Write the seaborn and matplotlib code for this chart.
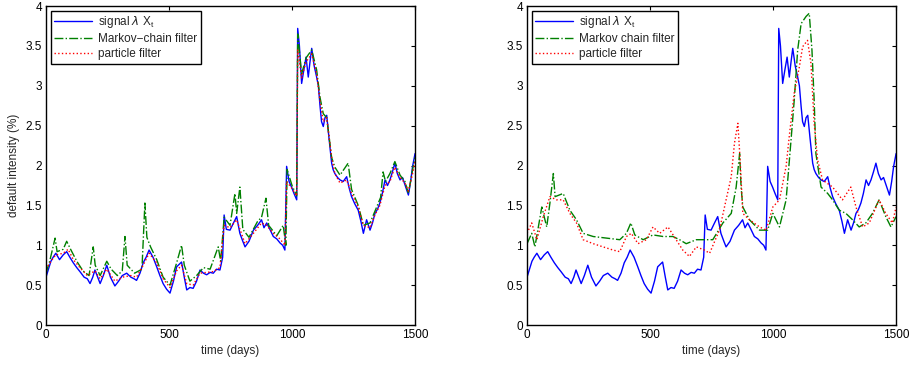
import numpy as np
import matplotlib
matplotlib.use('Agg')
from matplotlib import pyplot as plt
from matplotlib.ticker import FuncFormatter
import seaborn as sns

sns.set_style('white')
plt.rcParams['font.family'] = ['Liberation Sans', 'DejaVu Sans']

# signal lambda X_t (same path in both panels)
sig_days = [0, 10, 20, 29, 40, 55, 70, 84, 97, 111, 125, 138, 155, 168, 179, 190, 199, 210, 220,
            233, 247, 262, 280, 295, 310, 328, 345, 358, 368, 382, 395, 407, 419, 435, 450, 463,
            476, 490, 504, 518, 531, 551, 562, 572, 585, 598, 612, 626, 640, 653, 667, 680, 693,
            707, 718, 724, 733, 748, 762, 775, 788, 800, 809, 825, 843, 860, 876, 886, 897, 910,
            924, 938, 951, 962, 971, 978, 988, 998, 1008, 1019, 1023, 1030, 1039, 1048, 1057, 1066,
            1073, 1080, 1090, 1100, 1107, 1114, 1120, 1127, 1134, 1141, 1150, 1161, 1167, 1174,
            1185, 1195, 1208, 1222, 1232, 1242, 1255, 1269, 1280, 1290, 1303, 1317, 1327, 1337,
            1347, 1357, 1367, 1378, 1388, 1398, 1408, 1418, 1428, 1439, 1449, 1459, 1466, 1473,
            1482, 1490, 1500]
sig_vals = [0.60, 0.70, 0.80, 0.85, 0.90, 0.82, 0.88, 0.92, 0.85, 0.78, 0.72, 0.67, 0.60, 0.58,
            0.52, 0.60, 0.69, 0.60, 0.52, 0.62, 0.75, 0.60, 0.49, 0.55, 0.62, 0.65, 0.60, 0.58,
            0.56, 0.65, 0.78, 0.85, 0.94, 0.85, 0.73, 0.62, 0.52, 0.45, 0.40, 0.55, 0.73, 0.79,
            0.60, 0.44, 0.47, 0.46, 0.55, 0.69, 0.65, 0.63, 0.66, 0.65, 0.70, 0.69, 0.85, 1.38,
            1.20, 1.19, 1.28, 1.36, 1.15, 1.05, 0.98, 1.05, 1.19, 1.25, 1.32, 1.22, 1.28, 1.20,
            1.11, 1.08, 1.03, 1.00, 0.94, 1.99, 1.80, 1.73, 1.65, 1.57, 3.72, 3.50, 3.03, 3.20,
            3.36, 3.11, 3.30, 3.47, 3.25, 3.11, 3.00, 2.74, 2.55, 2.49, 2.60, 2.63, 2.35, 2.03,
            1.95, 1.90, 1.85, 1.82, 1.80, 1.86, 1.72, 1.61, 1.52, 1.44, 1.30, 1.15, 1.32, 1.19,
            1.28, 1.40, 1.45, 1.53, 1.65, 1.82, 1.75, 1.82, 1.92, 2.03, 1.90, 1.82, 1.85, 1.76,
            1.70, 1.63, 1.80, 1.99, 2.15]

# left panel: Markov-chain filter
mc_left_days = [0, 15, 37, 45, 70, 84, 100, 125, 150, 175, 192, 200, 220, 247, 265, 290, 310, 321,
                330, 360, 390, 402, 410, 425, 450, 476, 504, 531, 551, 562, 585, 612, 640, 667, 700,
                710, 724, 748, 768, 775, 788, 800, 825, 860, 876, 894, 905, 938, 964, 975, 980, 1000,
                1019, 1023, 1039, 1057, 1080, 1100, 1114, 1127, 1141, 1161, 1174, 1195, 1228, 1242,
                1269, 1290, 1317, 1340, 1360, 1370, 1380, 1398, 1418, 1439, 1459, 1473, 1490, 1500]
mc_left_vals = [0.65, 0.80, 1.09, 0.92, 0.95, 1.05, 0.95, 0.80, 0.68, 0.62, 0.98, 0.75, 0.62, 0.80,
                0.70, 0.62, 0.68, 1.11, 0.75, 0.65, 0.70, 1.53, 1.10, 0.98, 0.82, 0.60, 0.50, 0.78,
                1.00, 0.75, 0.55, 0.62, 0.72, 0.70, 0.98, 0.80, 1.35, 1.25, 1.65, 1.40, 1.73, 1.20,
                1.10, 1.30, 1.35, 1.59, 1.25, 1.12, 1.25, 1.00, 1.95, 1.75, 1.62, 3.65, 3.15, 3.35,
                3.45, 3.20, 2.85, 2.65, 2.60, 2.10, 1.98, 1.88, 2.03, 1.70, 1.50, 1.25, 1.28, 1.45,
                1.60, 1.92, 1.80, 1.90, 2.05, 1.88, 1.80, 1.65, 1.95, 2.10]

# left panel: particle filter
pf_left_days = [0, 20, 40, 70, 90, 111, 138, 168, 199, 220, 247, 280, 310, 345, 368, 395, 419, 450,
                476, 504, 531, 551, 572, 598, 626, 653, 680, 707, 724, 748, 775, 800, 809, 843, 876,
                897, 924, 951, 971, 978, 998, 1019, 1023, 1039, 1057, 1080, 1100, 1114, 1127, 1141,
                1161, 1174, 1195, 1222, 1242, 1269, 1290, 1317, 1337, 1357, 1378, 1398, 1418, 1439,
                1459, 1473, 1490, 1500]
pf_left_vals = [0.70, 0.80, 0.88, 0.90, 0.95, 0.82, 0.72, 0.62, 0.68, 0.58, 0.70, 0.55, 0.60, 0.62,
                0.60, 0.75, 0.90, 0.78, 0.58, 0.47, 0.68, 0.75, 0.52, 0.50, 0.65, 0.66, 0.67, 0.72,
                1.25, 1.22, 1.32, 1.10, 1.02, 1.15, 1.28, 1.25, 1.15, 1.08, 1.00, 1.80, 1.72, 1.62,
                3.45, 3.10, 3.30, 3.40, 3.15, 2.80, 2.55, 2.60, 2.10, 1.90, 1.78, 1.82, 1.65, 1.48,
                1.25, 1.22, 1.38, 1.50, 1.75, 1.80, 1.98, 1.85, 1.78, 1.68, 1.90, 2.05]

# right panel: Markov chain filter
mc_right_days = [0, 19, 32, 60, 80, 93, 107, 114, 147, 174, 201, 228, 269, 323, 377, 404, 422, 438,
                 472, 512, 553, 593, 620, 647, 688, 721, 755, 796, 830, 850, 864, 870, 877, 904, 945,
                 978, 999, 1026, 1053, 1073, 1086, 1100, 1114, 1134, 1147, 1158, 1167, 1174, 1195,
                 1222, 1242, 1269, 1296, 1323, 1350, 1377, 1404, 1431, 1458, 1479, 1500]
mc_right_vals = [1.02, 1.15, 0.98, 1.48, 1.23, 1.53, 1.90, 1.61, 1.65, 1.44, 1.32, 1.15, 1.11, 1.09,
                 1.07, 1.15, 1.28, 1.13, 1.07, 1.13, 1.11, 1.11, 1.07, 1.02, 1.07, 1.07, 1.07, 1.28,
                 1.40, 1.73, 2.15, 1.73, 1.48, 1.32, 1.19, 1.19, 1.40, 1.23, 1.57, 2.32, 2.82, 3.45,
                 3.78, 3.87, 3.91, 3.45, 2.82, 2.15, 1.73, 1.65, 1.57, 1.44, 1.40, 1.32, 1.23, 1.28,
                 1.40, 1.57, 1.36, 1.23, 1.36]

# right panel: particle filter
pf_right_days = [0, 19, 40, 66, 93, 120, 147, 174, 201, 228, 269, 309, 350, 377, 404, 424, 451, 485,
                 512, 539, 573, 606, 633, 660, 688, 721, 742, 782, 809, 830, 843, 857, 866, 877, 904,
                 945, 972, 999, 1026, 1053, 1067, 1086, 1107, 1120, 1140, 1154, 1167, 1181, 1201,
                 1242, 1282, 1316, 1337, 1364, 1391, 1431, 1458, 1485, 1500]
pf_right_vals = [1.15, 1.28, 1.07, 1.36, 1.61, 1.57, 1.57, 1.40, 1.28, 1.07, 1.02, 0.98, 0.94, 0.92,
                 1.11, 1.15, 1.02, 1.07, 1.23, 1.15, 1.23, 1.07, 0.94, 0.86, 0.98, 0.94, 0.90, 1.19,
                 1.57, 1.86, 2.28, 2.53, 2.07, 1.40, 1.32, 1.23, 1.19, 1.48, 1.57, 1.99, 2.40, 2.91,
                 3.24, 3.49, 3.57, 3.28, 2.53, 2.07, 1.82, 1.73, 1.57, 1.73, 1.48, 1.23, 1.28, 1.57,
                 1.40, 1.28, 1.48]

x_ticks = [0, 500, 1000, 1500]
y_ticks = [0, 0.5, 1, 1.5, 2, 2.5, 3, 3.5, 4]

fig = plt.figure(figsize=(9.09, 3.67), dpi=100)
ax_l = fig.add_axes([0.0506, 0.1144, 0.406, 0.869])
ax_r = fig.add_axes([0.5798, 0.1144, 0.406, 0.869])

panels = [
    (ax_l, mc_left_days, mc_left_vals, pf_left_days, pf_left_vals, 'Markov\u2212chain filter'),
    (ax_r, mc_right_days, mc_right_vals, pf_right_days, pf_right_vals, 'Markov chain filter'),
]

for ax, mc_d, mc_v, pf_d, pf_v, mc_label in panels:
    sns.lineplot(x=sig_days, y=sig_vals, ax=ax, color='#0000ff', lw=1.0,
                 label=r'signal $\lambda$ X$_\mathregular{t}$')
    sns.lineplot(x=mc_d, y=mc_v, ax=ax, color='#008000', lw=1.0, linestyle='-.', label=mc_label)
    sns.lineplot(x=pf_d, y=pf_v, ax=ax, color='#ff0000', lw=1.0, linestyle=':', label='particle filter')

    ax.set_xlim(0, 1500)
    ax.set_ylim(0, 4)
    ax.set_xticks(x_ticks)
    ax.set_yticks(y_ticks)
    ax.yaxis.set_major_formatter(FuncFormatter(lambda v, p: '%g' % v))
    ax.tick_params(direction='in', top=True, right=True, length=3, width=0.8,
                   labelsize=8.5, colors='black', pad=3)
    for s in ax.spines.values():
        s.set_color('black')
        s.set_linewidth(1.0)
    ax.set_xlabel('time (days)', fontsize=8.5, labelpad=3)
    ax.set_ylabel('')
    leg = ax.legend(loc='upper left', fontsize=8.5, frameon=True, fancybox=False,
                    edgecolor='black', framealpha=1, handlelength=3.2, borderaxespad=0.4,
                    borderpad=0.3, labelspacing=0.25, handletextpad=0.5)
    leg.get_frame().set_linewidth(1.0)

ax_l.set_ylabel('default intensity (%)', fontsize=8.5, labelpad=4)

fig.savefig('out.png', dpi=100)
